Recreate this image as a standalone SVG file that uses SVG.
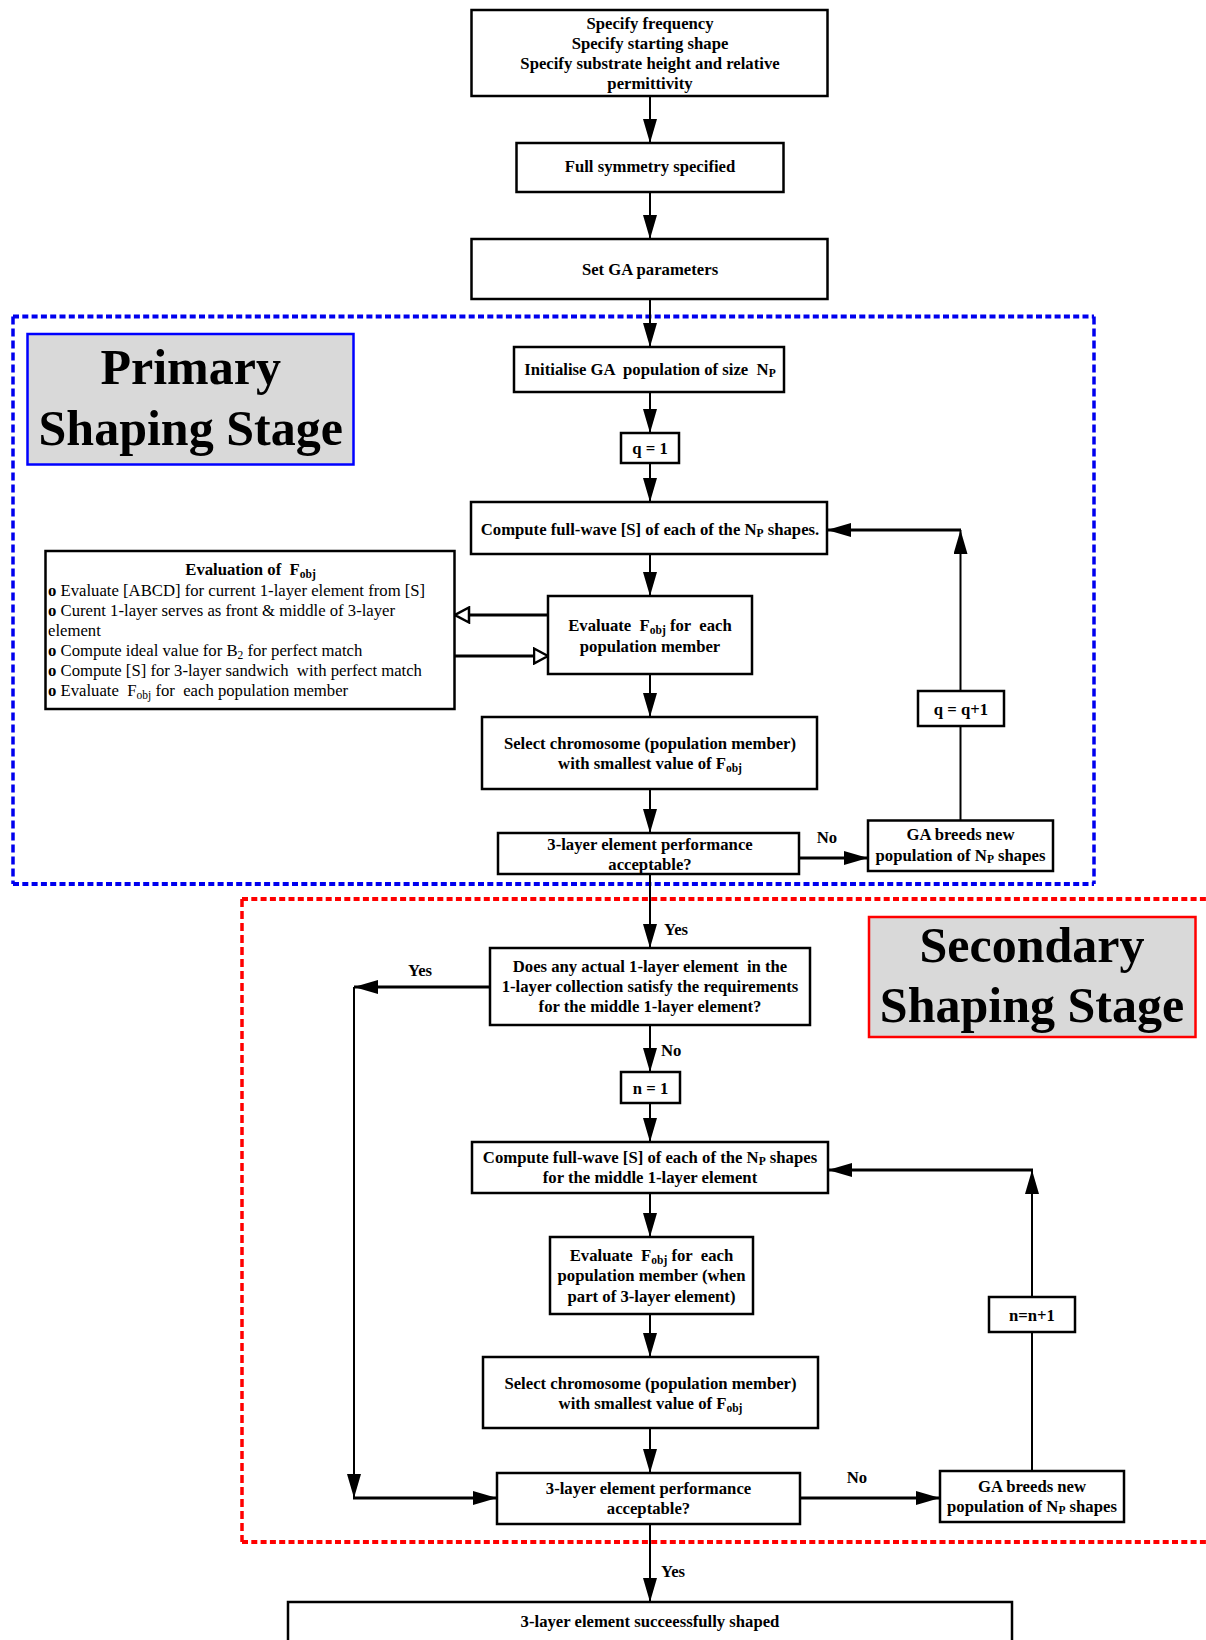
<svg xmlns="http://www.w3.org/2000/svg" width="1206" height="1640" viewBox="0 0 1206 1640">
<style>
.box{fill:#fff;stroke:#000;stroke-width:2.5}
.t{font-family:"Liberation Serif","Times New Roman",serif;font-weight:bold;font-size:16.7px;fill:#000;text-anchor:middle}
.l{font-family:"Liberation Serif","Times New Roman",serif;font-size:16.7px;fill:#000}
.lb{font-weight:bold}
.big{font-family:"Liberation Serif","Times New Roman",serif;font-weight:bold;font-size:50px;fill:#000;text-anchor:middle}
.c{stroke:#000;stroke-width:2;fill:none}
.ct{stroke:#000;stroke-width:3;fill:none}
.a{marker-end:url(#arr)}
.h{marker-end:url(#hol)}
.bh{stroke:#0000ee;stroke-width:4;stroke-dasharray:6 3.3;fill:none}
.bv{stroke:#0000ee;stroke-width:3.5;stroke-dasharray:8 4;fill:none}
.rh{stroke:#ff0000;stroke-width:4;stroke-dasharray:6 3.3;fill:none}
.rv{stroke:#ff0000;stroke-width:3.5;stroke-dasharray:8 4;fill:none}
</style>
<defs>
<marker id="arr" viewBox="0 0 24 14" refX="24" refY="7" markerWidth="24" markerHeight="14" orient="auto" markerUnits="userSpaceOnUse"><path d="M0,0 L24,7 L0,14 z" fill="#000"/></marker>
<marker id="hol" viewBox="0 0 17 18" refX="15.5" refY="9" markerWidth="17" markerHeight="18" orient="auto" markerUnits="userSpaceOnUse"><path d="M1.5,1.5 L15.5,9 L1.5,16.5 z" fill="#fff" stroke="#000" stroke-width="2.5"/></marker>
</defs>

<g id="stage-frames">
<path class="bh" d="M13,316.5 H1094"/>
<path class="bh" d="M13,884 H1094"/>
<path class="bv" d="M13,316.5 V884"/>
<path class="bv" d="M1094,316.5 V884"/>
<path class="rh" d="M242,899 H1210"/>
<path class="rh" d="M242,1542 H1210"/>
<path class="rv" d="M242,899 V1542"/>
</g>

<g id="primary-label">
<rect x="27.5" y="334" width="326" height="130.5" fill="#d9d9d9" stroke="#0000ff" stroke-width="2.5"/>
<text class="big" x="190.7" y="384">Primary</text>
<text class="big" x="190.7" y="445">Shaping Stage</text>
</g>
<g id="secondary-label">
<rect x="869" y="917" width="326.5" height="120" fill="#d9d9d9" stroke="#ff0000" stroke-width="2.5"/>
<text class="big" x="1032" y="962">Secondary</text>
<text class="big" x="1032" y="1022">Shaping Stage</text>
</g>

<g id="connectors">
<line class="c a" x1="650" y1="96" x2="650" y2="143"/>
<line class="c a" x1="650" y1="192" x2="650" y2="239"/>
<line class="c a" x1="650" y1="299" x2="650" y2="347"/>
<line class="c a" x1="650" y1="392" x2="650" y2="433"/>
<line class="c a" x1="650" y1="463" x2="650" y2="502"/>
<line class="c a" x1="650" y1="554" x2="650" y2="596"/>
<line class="c a" x1="650" y1="674" x2="650" y2="717"/>
<line class="c a" x1="650" y1="789" x2="650" y2="833"/>
<line class="c a" x1="650" y1="874" x2="650" y2="948"/>
<line class="ct a" x1="800" y1="858" x2="868" y2="858"/>
<line class="c" x1="960.5" y1="820.5" x2="960.5" y2="726"/>
<line class="c a" x1="960.5" y1="691" x2="960.5" y2="530"/>
<line class="ct a" x1="961" y1="530" x2="827" y2="530"/>
<line class="ct h" x1="548" y1="615" x2="455" y2="615"/>
<line class="ct h" x1="455" y1="656" x2="548" y2="656"/>
<line class="ct a" x1="490" y1="987" x2="354" y2="987"/>
<line class="c a" x1="354" y1="987" x2="354" y2="1498"/>
<line class="ct a" x1="353" y1="1498" x2="497" y2="1498"/>
<line class="c a" x1="650" y1="1025" x2="650" y2="1072"/>
<line class="c a" x1="650" y1="1103" x2="650" y2="1142"/>
<line class="c a" x1="650" y1="1193" x2="650" y2="1237"/>
<line class="c a" x1="650" y1="1314" x2="650" y2="1357"/>
<line class="c a" x1="650" y1="1428" x2="650" y2="1473"/>
<line class="ct a" x1="800" y1="1498" x2="940" y2="1498"/>
<line class="c" x1="1032" y1="1471" x2="1032" y2="1332"/>
<line class="c a" x1="1032" y1="1297" x2="1032" y2="1170"/>
<line class="ct a" x1="1033" y1="1170" x2="828" y2="1170"/>
<line class="c a" x1="650" y1="1524" x2="650" y2="1602"/>
<text class="t" x="827" y="843">No</text>
<text class="t" x="664" y="935" style="text-anchor:start">Yes</text>
<text class="t" x="420" y="975.5">Yes</text>
<text class="t" x="661" y="1055.5" style="text-anchor:start">No</text>
<text class="t" x="857" y="1483">No</text>
<text class="t" x="661" y="1577" style="text-anchor:start">Yes</text>
</g>

<g id="n-inputs">
<rect class="box" x="471.5" y="10" width="356" height="86"/>
<text class="t" x="650" y="28.5">Specify frequency</text>
<text class="t" x="650" y="48.5">Specify starting shape</text>
<text class="t" x="650" y="68.5">Specify substrate height and relative</text>
<text class="t" x="650" y="88.5">permittivity</text>
</g>
<g id="n-symmetry">
<rect class="box" x="516.5" y="143" width="267" height="49"/>
<text class="t" x="650" y="172">Full symmetry specified</text>
</g>
<g id="n-ga-params">
<rect class="box" x="471.5" y="239" width="356" height="60"/>
<text class="t" x="650" y="274.5">Set GA parameters</text>
</g>
<g id="n-init">
<rect class="box" x="514" y="347" width="270" height="45"/>
<text class="t" x="650" y="374.5" xml:space="preserve">Initialise GA  population of size  N<tspan font-size="11.5" dy="2">P</tspan></text>
</g>
<g id="n-q1">
<rect class="box" x="621" y="433" width="58" height="30"/>
<text class="t" x="650" y="453.8">q = 1</text>
</g>
<g id="n-compute1">
<rect class="box" x="471" y="502" width="356" height="52"/>
<text class="t" x="650" y="534.8">Compute full-wave [S] of each of the N<tspan font-size="11.5" dy="2">P</tspan><tspan dy="-2"> shapes.</tspan></text>
</g>
<g id="n-evaluation">
<rect class="box" x="45.5" y="551" width="409" height="158"/>
<text class="l lb" x="250.5" y="575" text-anchor="middle" xml:space="preserve">Evaluation of  F<tspan font-size="11.5" dy="3">obj</tspan></text>
<text class="l" x="48" y="596"><tspan class="lb">o</tspan> Evaluate [ABCD] for current 1-layer element from [S]</text>
<text class="l" x="48" y="616"><tspan class="lb">o</tspan> Curent 1-layer serves as front &amp; middle of 3-layer</text>
<text class="l" x="48" y="635.5">element</text>
<text class="l" x="48" y="655.5"><tspan class="lb">o</tspan> Compute ideal value for B<tspan font-size="11.5" dy="3">2</tspan><tspan dy="-3"> for perfect match</tspan></text>
<text class="l" x="48" y="675.5" xml:space="preserve"><tspan class="lb">o</tspan> Compute [S] for 3-layer sandwich  with perfect match</text>
<text class="l" x="48" y="695.5" xml:space="preserve"><tspan class="lb">o</tspan> Evaluate  F<tspan font-size="11.5" dy="3">obj</tspan><tspan dy="-3"> for  each population member</tspan></text>
</g>
<g id="n-evaluate1">
<rect class="box" x="548" y="596" width="204" height="78"/>
<text class="t" x="650" y="630.5" xml:space="preserve">Evaluate  F<tspan font-size="11.5" dy="3">obj</tspan><tspan dy="-3"> for  each</tspan></text>
<text class="t" x="650" y="651.5">population member</text>
</g>
<g id="n-select1">
<rect class="box" x="482" y="717" width="335" height="72"/>
<text class="t" x="650" y="748.8">Select chromosome (population member)</text>
<text class="t" x="650" y="768.8">with smallest value of F<tspan font-size="11.5" dy="3">obj</tspan></text>
</g>
<g id="n-accept1">
<rect class="box" x="498" y="833" width="301" height="41"/>
<text class="t" x="650" y="849.5">3-layer element performance</text>
<text class="t" x="650" y="870">acceptable?</text>
</g>
<g id="n-breed1">
<rect class="box" x="868" y="820.5" width="185" height="50.5"/>
<text class="t" x="960.5" y="840">GA breeds new</text>
<text class="t" x="960.5" y="861">population of N<tspan font-size="11.5" dy="2">P</tspan><tspan dy="-2"> shapes</tspan></text>
</g>
<g id="n-q-inc">
<rect class="box" x="918" y="691" width="86" height="35"/>
<text class="t" x="961" y="714.8">q = q+1</text>
</g>
<g id="n-collection">
<rect class="box" x="490" y="948" width="320" height="77"/>
<text class="t" x="650" y="971.5" xml:space="preserve">Does any actual 1-layer element  in the</text>
<text class="t" x="650" y="991.5">1-layer collection satisfy the requirements</text>
<text class="t" x="650" y="1012">for the middle 1-layer element?</text>
</g>
<g id="n-n1">
<rect class="box" x="621" y="1072" width="59" height="31"/>
<text class="t" x="650.5" y="1093.8">n = 1</text>
</g>
<g id="n-compute2">
<rect class="box" x="472" y="1142" width="356" height="51"/>
<text class="t" x="650" y="1163">Compute full-wave [S] of each of the N<tspan font-size="11.5" dy="2">P</tspan><tspan dy="-2"> shapes</tspan></text>
<text class="t" x="650" y="1183">for the middle 1-layer element</text>
</g>
<g id="n-evaluate2">
<rect class="box" x="550" y="1237" width="203" height="77"/>
<text class="t" x="651.5" y="1260.5" xml:space="preserve">Evaluate  F<tspan font-size="11.5" dy="3">obj</tspan><tspan dy="-3"> for  each</tspan></text>
<text class="t" x="651.5" y="1281">population member (when</text>
<text class="t" x="651.5" y="1301.5">part of 3-layer element)</text>
</g>
<g id="n-select2">
<rect class="box" x="483" y="1357" width="335" height="71"/>
<text class="t" x="650.5" y="1389">Select chromosome (population member)</text>
<text class="t" x="650.5" y="1409">with smallest value of F<tspan font-size="11.5" dy="3">obj</tspan></text>
</g>
<g id="n-accept2">
<rect class="box" x="497" y="1473" width="303" height="51"/>
<text class="t" x="648.5" y="1494">3-layer element performance</text>
<text class="t" x="648.5" y="1514">acceptable?</text>
</g>
<g id="n-breed2">
<rect class="box" x="940" y="1471" width="184" height="51"/>
<text class="t" x="1032" y="1492">GA breeds new</text>
<text class="t" x="1032" y="1512">population of N<tspan font-size="11.5" dy="2">P</tspan><tspan dy="-2"> shapes</tspan></text>
</g>
<g id="n-n-inc">
<rect class="box" x="989" y="1297" width="86" height="35"/>
<text class="t" x="1032" y="1320.5">n=n+1</text>
</g>
<g id="n-done">
<rect class="box" x="288" y="1602" width="724" height="60"/>
<text class="t" x="650" y="1627">3-layer element succeessfully shaped</text>
</g>
</svg>
